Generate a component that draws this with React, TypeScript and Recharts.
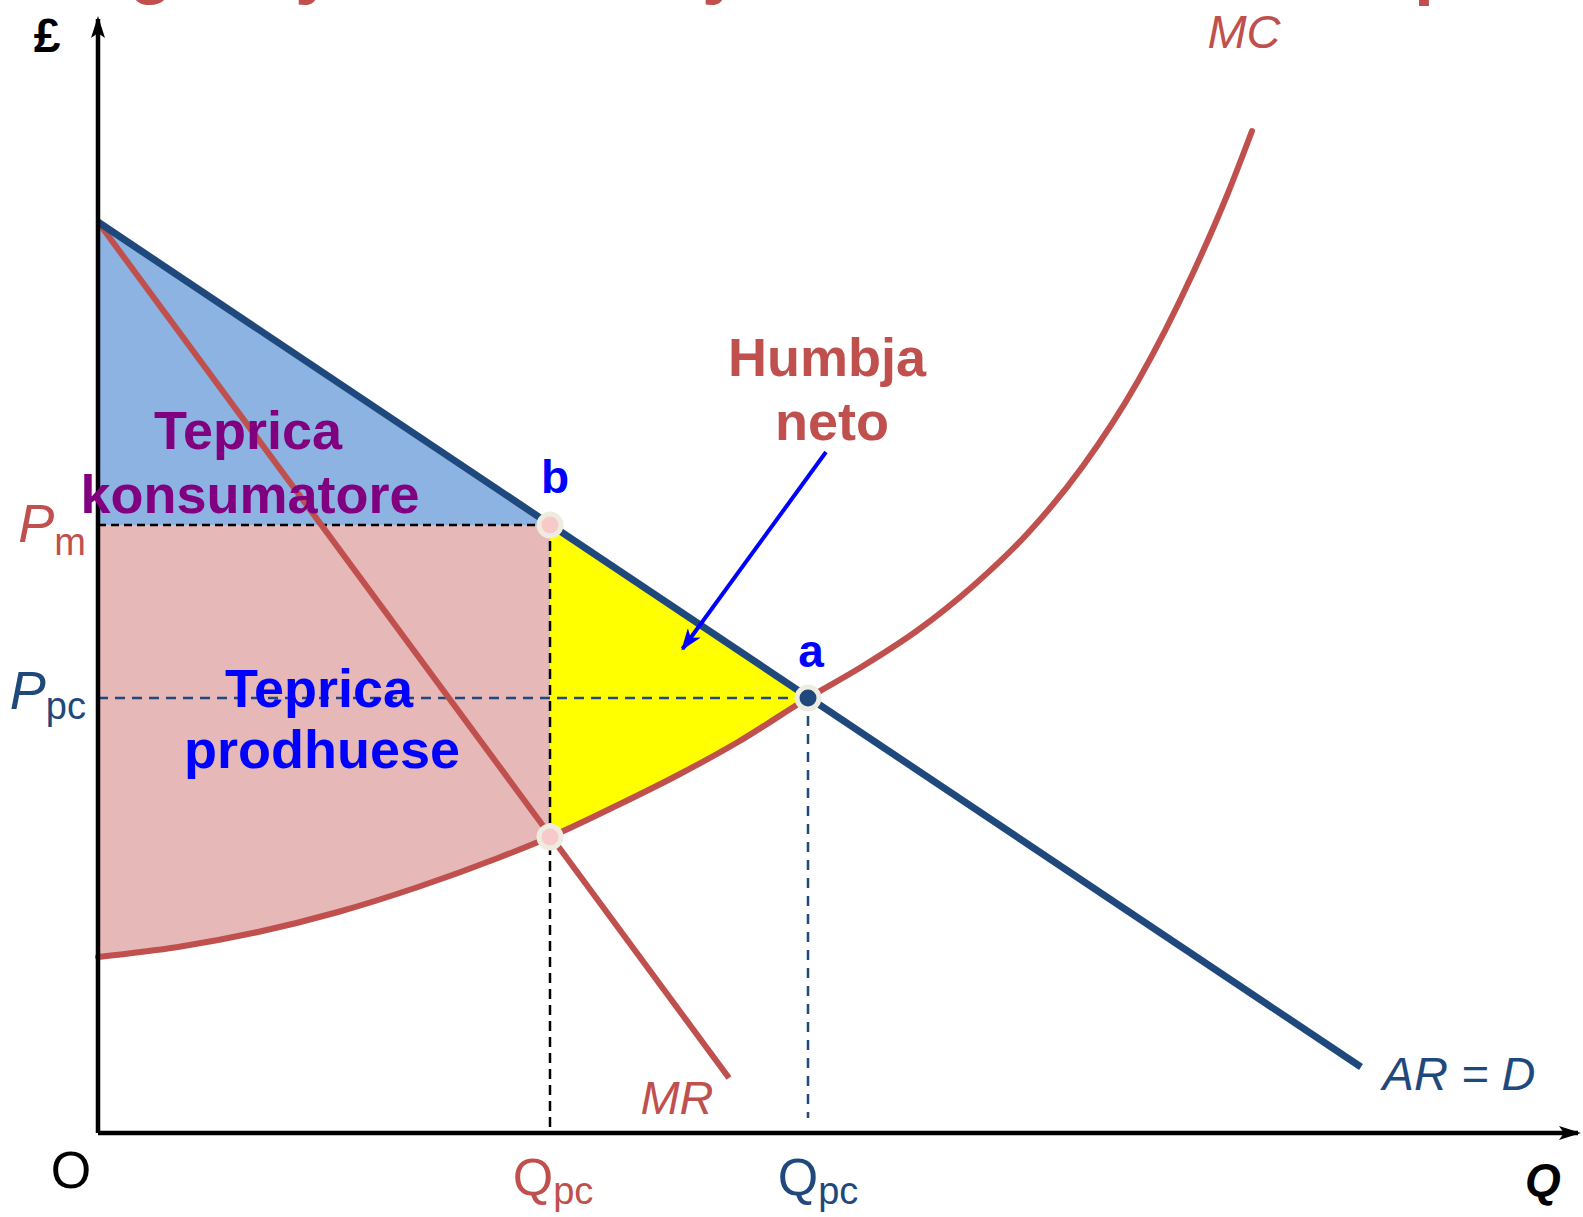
import React from 'react';
import { ComposedChart, Area, Line, XAxis, YAxis, ReferenceLine, ReferenceDot } from 'recharts';

const RED = '#C0504D';
const NAVY = '#1F497D';
const FONT = '"Liberation Sans", Arial, sans-serif';

// Curves: quantity on x, price (£) on y
const demandQ = [0, 126.3];
const demandP = [91.1, 6.6];
const mrQ = [0, 63.1];
const mrP = [91.1, 5.5];
const mcQ = [0, 8, 16, 24, 32, 40, 45.2, 52, 58, 64, 71, 76.5, 82, 87.5, 93, 98.5, 104, 109.5, 113, 115.4];
const mcP = [17.6, 18.6, 20.1, 22.1, 24.6, 27.5, 29.6, 32.8, 35.8, 39.1, 43.5, 46.7, 50.3, 54.7, 60.0, 66.7, 75.2, 86.0, 94.0, 100.2];

// monopoly and competitive outcomes
const outputQ = [45.2, 71.0];
const priceP = [60.8, 43.5];
const mrMeetsMcP = 29.6;

// demand above the deadweight-loss wedge, at the MC sample points from Qm to Qpc
const lossTopP = [60.8, 56.3, 52.3, 48.3, 43.5];

// "Humbja neto" pointer
const pointerQ = [72.8, 58.45];
const pointerP = [68.1, 48.4];

const [Qm, Qpc] = outputQ;
const [Pm, Ppc] = priceP;

const toPts = (qs: number[], ps: number[]) => qs.map((q, i) => ({ q, p: ps[i] }));
const demand = toPts(demandQ, demandP);
const mr = toPts(mrQ, mrP);
const mc = toPts(mcQ, mcP);
const pointer = toPts(pointerQ, pointerP);

const consumer = [
  { q: 0, band: [Pm, demandP[0]] },
  { q: Qm, band: [Pm, Pm] },
];
const producer = mc.filter((d) => d.q <= Qm).map((d) => ({ q: d.q, band: [d.p, Pm] }));
const loss = mc
  .filter((d) => d.q >= Qm && d.q <= Qpc)
  .map((d, i) => ({ q: d.q, band: [d.p, lossTopP[i]] }));

const xAxisLine = [{ q: 0, p: 0 }, { q: 148, p: 0 }];
const yAxisLine = [{ q: 0, p: 0 }, { q: 0, p: 111.4 }];

const QTick = (props: any) => {
  const { x, y, payload } = props;
  const v = payload.value;
  if (v === 0) {
    return (
      <text x={x - 27} y={y + 55} textAnchor="middle" fontSize={52} fill="#000" fontFamily={FONT}>
        O
      </text>
    );
  }
  const isM = v === Qm;
  return (
    <text x={x + (isM ? 3 : 10)} y={y + 62} textAnchor="middle" fill={isM ? RED : NAVY} fontFamily={FONT}>
      <tspan fontSize={52}>Q</tspan>
      <tspan fontSize={38} dy={9}>pc</tspan>
    </text>
  );
};

const PTick = (props: any) => {
  const { x, y, payload } = props;
  const isM = payload.value === Pm;
  return (
    <text x={x - 12} y={y + (isM ? 17 : 11)} textAnchor="end" fill={isM ? RED : NAVY} fontFamily={FONT}>
      <tspan fontSize={54} fontStyle="italic">P</tspan>
      <tspan fontSize={38} dy={isM ? 13 : 10}>{isM ? 'm' : 'pc'}</tspan>
    </text>
  );
};

type NoteStyle = { size: number; color: string; bold?: boolean; italic?: boolean };

const note = (key: string, q: number, p: number, text: string, s: NoteStyle) => (
  <ReferenceDot
    key={key}
    x={q}
    y={p}
    r={1}
    ifOverflow="visible"
    shape={(props: any) => (
      <text
        x={props.cx}
        y={props.cy}
        textAnchor="middle"
        fontFamily={FONT}
        fontSize={s.size}
        fontWeight={s.bold ? 'bold' : 'normal'}
        fontStyle={s.italic ? 'italic' : 'normal'}
        fill={s.color}
      >
        {text}
      </text>
    )}
  />
);

const App = () => {
  return (
    <div style={{ position: 'absolute', left: 0, top: 0, background: '#fff' }}>
      <ComposedChart width={1583} height={1217} margin={{ top: 13, right: 3, bottom: 0, left: 0 }}>
        <defs>
          <marker id="axisHead" viewBox="0 0 22 14" refX="19" refY="7" markerWidth="22" markerHeight="14"
            markerUnits="userSpaceOnUse" orient="auto">
            <path d="M0,0 L22,7 L0,14 L5,7 Z" fill="#000" />
          </marker>
          <marker id="pointerHead" viewBox="0 0 22 16" refX="20" refY="8" markerWidth="22" markerHeight="16"
            markerUnits="userSpaceOnUse" orient="auto">
            <path d="M0,0 L22,8 L0,16 L6,8 Z" fill="#0000FF" />
          </marker>
        </defs>

        <XAxis
          type="number"
          dataKey="q"
          domain={[0, 148.2]}
          ticks={[0, Qm, Qpc]}
          interval={0}
          height={84}
          axisLine={false}
          tickLine={false}
          tickSize={0}
          tickMargin={0}
          tick={<QTick />}
        />
        <YAxis
          type="number"
          dataKey="p"
          domain={[0, 112]}
          ticks={[Ppc, Pm]}
          interval={0}
          width={98}
          axisLine={false}
          tickLine={false}
          tickSize={0}
          tickMargin={0}
          tick={<PTick />}
        />

        {/* welfare areas */}
        <Area data={consumer} dataKey="band" type="linear" stroke="none" fill="#8DB3E2" fillOpacity={1}
          dot={false} activeDot={false} isAnimationActive={false} />
        <Area data={producer} dataKey="band" type="monotone" stroke="none" fill="#E6B9B8" fillOpacity={1}
          dot={false} activeDot={false} isAnimationActive={false} />
        <Area data={loss} dataKey="band" type="monotone" stroke="none" fill="#FFFF00" fillOpacity={1}
          dot={false} activeDot={false} isAnimationActive={false} />

        {/* guide lines */}
        <ReferenceLine segment={[{ x: 0, y: Pm }, { x: Qm, y: Pm }]} stroke="#000" strokeWidth={2.5} strokeDasharray="8 5" />
        <ReferenceLine segment={[{ x: Qm, y: Pm }, { x: Qm, y: 0 }]} stroke="#000" strokeWidth={2.5} strokeDasharray="10 6" />
        <ReferenceLine segment={[{ x: 0, y: Ppc }, { x: Qpc, y: Ppc }]} stroke={NAVY} strokeWidth={2.5} strokeDasharray="10 7" />
        <ReferenceLine segment={[{ x: Qpc, y: Ppc }, { x: Qpc, y: 1.5 }]} stroke={NAVY} strokeWidth={2.5} strokeDasharray="10 8" />

        {/* curves */}
        <Line data={mr} dataKey="p" type="linear" stroke={RED} strokeWidth={6} dot={false} activeDot={false} isAnimationActive={false} />
        <Line data={mc} dataKey="p" type="monotone" stroke={RED} strokeWidth={6} strokeLinecap="round" dot={false} activeDot={false} isAnimationActive={false} />
        <Line data={demand} dataKey="p" type="linear" stroke={NAVY} strokeWidth={7} dot={false} activeDot={false} isAnimationActive={false} />

        {/* axes */}
        <Line data={xAxisLine} dataKey="p" type="linear" stroke="#000" strokeWidth={4.5} markerEnd="url(#axisHead)"
          dot={false} activeDot={false} isAnimationActive={false} />
        <Line data={yAxisLine} dataKey="p" type="linear" stroke="#000" strokeWidth={4.5} markerEnd="url(#axisHead)"
          dot={false} activeDot={false} isAnimationActive={false} />

        <Line data={pointer} dataKey="p" type="linear" stroke="#0000FF" strokeWidth={4} markerEnd="url(#pointerHead)"
          dot={false} activeDot={false} isAnimationActive={false} />

        {/* key points */}
        <ReferenceDot x={Qm} y={Pm} r={11} fill="#F8C9C9" stroke="#EEECE1" strokeWidth={5} />
        <ReferenceDot x={Qm} y={mrMeetsMcP} r={11} fill="#F8C9C9" stroke="#EEECE1" strokeWidth={5} />
        <ReferenceDot x={Qpc} y={Ppc} r={11} fill={NAVY} stroke="#EEECE1" strokeWidth={5} />

        {note('cs1', 15.0, 68.4, 'Teprica', { size: 54, color: '#800080', bold: true })}
        {note('cs2', 15.2, 62.0, 'konsumatore', { size: 54, color: '#800080', bold: true })}
        {note('ps1', 22.1, 42.6, 'Teprica', { size: 54, color: '#0000FF', bold: true })}
        {note('ps2', 22.4, 36.5, 'prodhuese', { size: 54, color: '#0000FF', bold: true })}
        {note('dw1', 72.9, 75.7, 'Humbja', { size: 54, color: RED, bold: true })}
        {note('dw2', 73.4, 69.3, 'neto', { size: 54, color: RED, bold: true })}
        {note('b', 45.7, 64.0, 'b', { size: 46, color: '#0000FF', bold: true })}
        {note('a', 71.3, 46.6, 'a', { size: 46, color: '#0000FF', bold: true })}
        {note('mc', 114.6, 108.5, 'MC', { size: 47, color: RED, italic: true })}
        {note('mr', 57.9, 1.9, 'MR', { size: 47, color: RED, italic: true })}
        {note('ar', 136.1, 4.3, 'AR = D', { size: 47, color: NAVY, italic: true })}
        {note('qx', 144.5, -6.3, 'Q', { size: 46, color: '#000', bold: true, italic: true })}
        {note('py', -5.1, 108.1, '£', { size: 48, color: '#000', bold: true })}

        {/* descenders of the title line cut off by the top edge */}
        {note('t1', 5.3, 114.3, 'g', { size: 72, color: RED, bold: true })}
        {note('t2', 21.7, 114.3, 'y', { size: 72, color: RED, bold: true })}
        {note('t3', 62.4, 114.3, 'y', { size: 72, color: RED, bold: true })}
        {note('t4', 133.8, 114.2, 'p', { size: 72, color: RED, bold: true })}
      </ComposedChart>
    </div>
  );
};

export default App;
